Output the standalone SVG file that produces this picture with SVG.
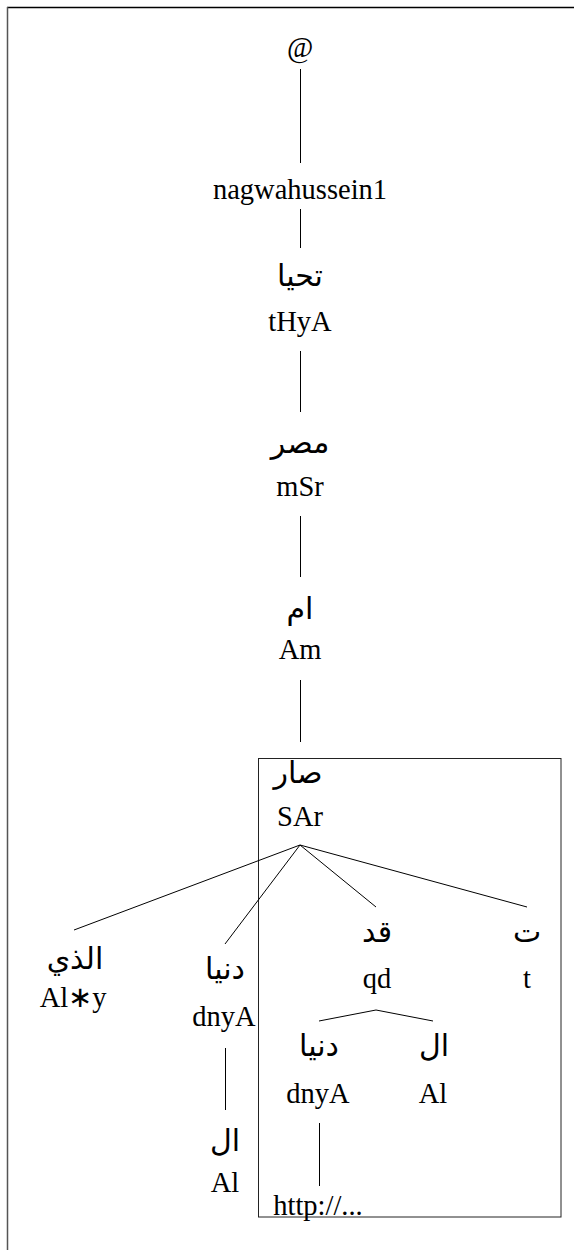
<svg xmlns="http://www.w3.org/2000/svg" width="574" height="1250" viewBox="0 0 574 1250">
<style>
  .t { font-family: "Liberation Serif", "Times New Roman", serif; font-size: 28.5px; fill: #000; text-anchor: middle; }
  .ar { font-family: "Liberation Serif", "DejaVu Sans", serif; font-size: 30px; fill: #000; text-anchor: middle; }
  .c line { stroke: #000; stroke-width: 1; }
</style>
<rect width="574" height="1250" fill="#fff"/>
<g id="frame">
  <line x1="7" y1="7.5" x2="574" y2="7.5" stroke="#000" stroke-width="1.5"/>
  <line x1="7.5" y1="7" x2="7.5" y2="1250" stroke="#555" stroke-width="1.5"/>
</g>
<g id="box">
  <rect x="258.5" y="758.5" width="302.5" height="458.5" fill="none" stroke="#222" stroke-width="1"/>
</g>
<g class="c" id="connectors">
  <line x1="300.5" y1="69" x2="300.5" y2="163"/>
  <line x1="300.5" y1="209" x2="300.5" y2="248"/>
  <line x1="300.5" y1="351" x2="300.5" y2="412"/>
  <line x1="300.5" y1="516" x2="300.5" y2="577"/>
  <line x1="300.5" y1="680" x2="300.5" y2="742"/>
  <line x1="300" y1="845" x2="74" y2="930"/>
  <line x1="300" y1="845" x2="225" y2="944"/>
  <line x1="300" y1="845" x2="376" y2="907"/>
  <line x1="300" y1="845" x2="527" y2="907"/>
  <line x1="376" y1="1010" x2="319" y2="1021"/>
  <line x1="376" y1="1010" x2="433" y2="1021"/>
  <line x1="225.5" y1="1048" x2="225.5" y2="1110"/>
  <line x1="319.5" y1="1123" x2="319.5" y2="1186"/>
</g>
<g id="n-at"><text class="t" x="300" y="57">@</text></g>
<g id="n-user"><text class="t" x="300" y="199">nagwahussein1</text></g>
<g id="n-thya"><text class="ar" x="300" y="286">تحيا</text><text class="t" x="300" y="331">tHyA</text></g>
<g id="n-msr"><text class="ar" x="300" y="453">مصر</text><text class="t" x="300" y="496">mSr</text></g>
<g id="n-am"><text class="ar" x="300" y="619">ام</text><text class="t" x="300" y="659">Am</text></g>
<g id="n-sar"><text class="ar" x="298" y="783">صار</text><text class="t" x="300" y="826">SAr</text></g>
<g id="n-alzy"><text class="ar" x="75" y="969">الذي</text><text class="t" x="73" y="1007">Al∗y</text></g>
<g id="n-dnya1"><text class="ar" x="225" y="979">دنيا</text><text class="t" x="224" y="1026">dnyA</text></g>
<g id="n-qd"><text class="ar" x="377" y="942">قد</text><text class="t" x="377" y="988">qd</text></g>
<g id="n-t"><text class="ar" x="527" y="942">ت</text><text class="t" x="527" y="988">t</text></g>
<g id="n-al1"><text class="ar" x="225" y="1151">ال</text><text class="t" x="225" y="1192">Al</text></g>
<g id="n-dnya2"><text class="ar" x="319" y="1056">دنيا</text><text class="t" x="318" y="1103">dnyA</text></g>
<g id="n-al2"><text class="ar" x="434" y="1056">ال</text><text class="t" x="433" y="1103">Al</text></g>
<g id="n-http"><text class="t" x="318" y="1215">http://...</text></g>
</svg>
